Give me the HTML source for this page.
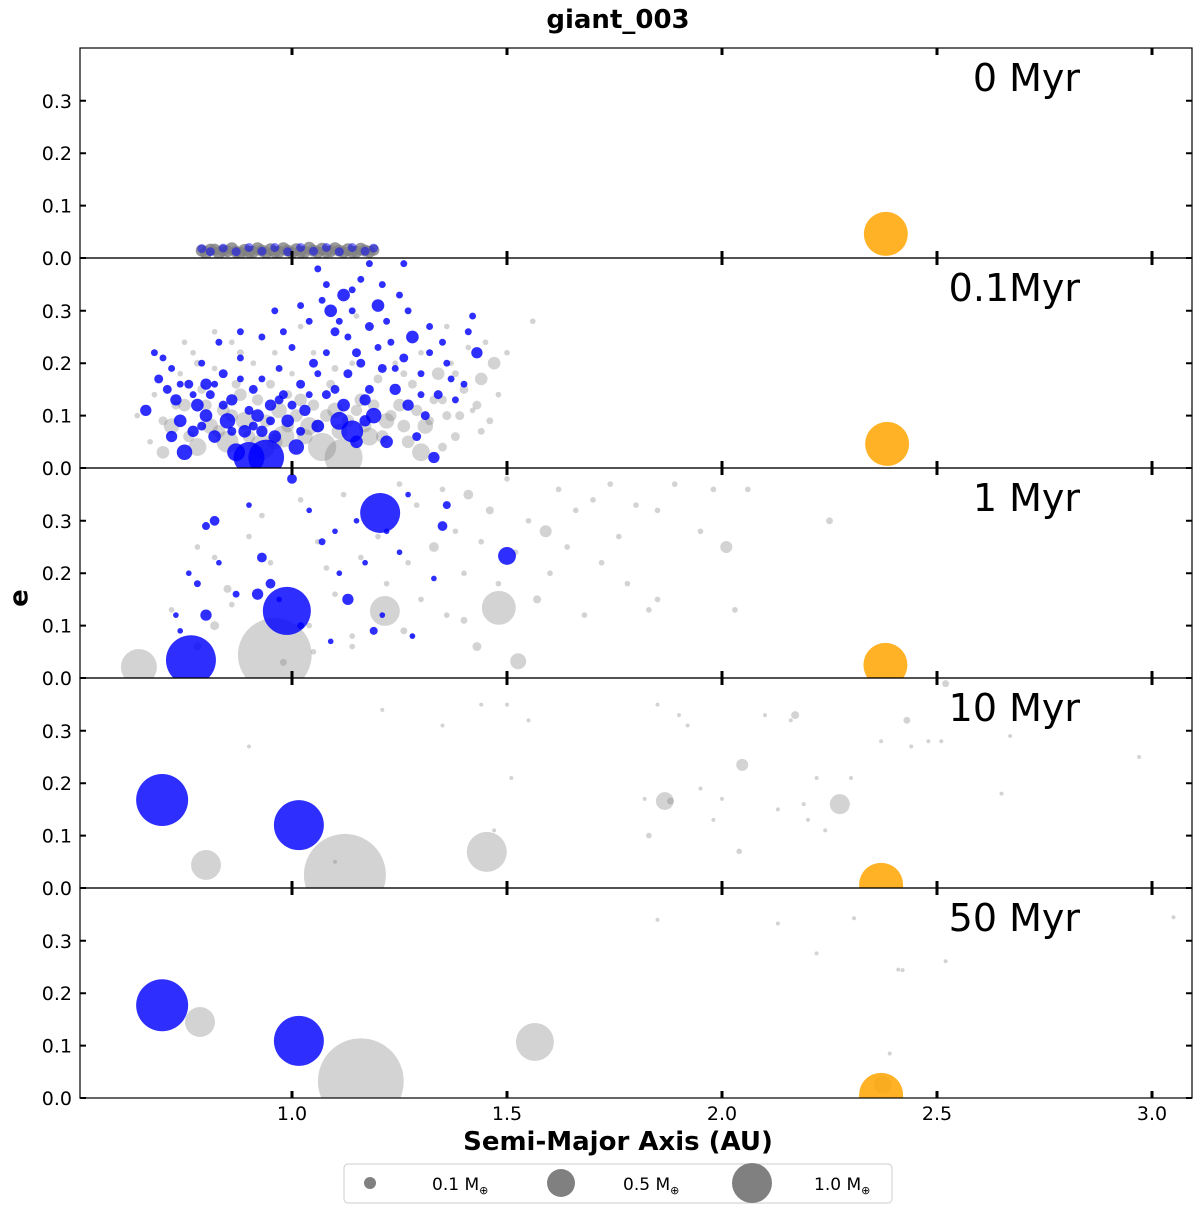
<!DOCTYPE html>
<html><head><meta charset="utf-8"><style>
body{margin:0;background:#fff;}
svg{display:block;font-family:"DejaVu Sans","Liberation Sans",sans-serif;}
</style></head><body>
<svg id="chart" width="1200" height="1211" viewBox="0 0 1200 1211">
<text x="618" y="28" font-size="26" font-weight="bold" text-anchor="middle">giant_003</text>
<text x="618" y="1150" font-size="26" font-weight="bold" text-anchor="middle">Semi-Major Axis (AU)</text>
<text x="20" y="598" font-size="26" font-weight="bold" text-anchor="middle" transform="rotate(-90 20 598)" dominant-baseline="middle">e</text>
<g id="panels"></g>
<g>
<rect x="344" y="1164" width="548" height="39" rx="4" fill="#fff" stroke="#ccc"/>
<circle cx="370" cy="1183" r="6" fill="#808080"/>
<text x="432" y="1190" font-size="17">0.1 M<tspan font-size="11" dy="4">⊕</tspan></text>
<circle cx="561" cy="1183" r="14" fill="#808080"/>
<text x="623" y="1190" font-size="17">0.5 M<tspan font-size="11" dy="4">⊕</tspan></text>
<circle cx="752" cy="1183" r="20" fill="#808080"/>
<text x="814" y="1190" font-size="17">1.0 M<tspan font-size="11" dy="4">⊕</tspan></text>
</g>
</svg>
<script>
const panelLabels=["0 Myr","0.1Myr","1 Myr","10 Myr","50 Myr"];
const xTicks=[1.0,1.5,2.0,2.5,3.0];
const yTicks=[0.0,0.1,0.2,0.3];
const giantA=[2.381,2.384,2.38,2.37,2.37];
const giantE=[0.046,0.046,0.025,0.006,0.006];
const p1Gray=[[0.79,0.014,0.09],[0.80,0.01,0.1],[0.81,0.016,0.09],[0.82,0.016,0.09],[0.83,0.01,0.1],[0.84,0.014,0.09],[0.85,0.013,0.09],[0.86,0.018,0.1],[0.87,0.012,0.09],[0.88,0.01,0.09],[0.89,0.015,0.1],[0.90,0.012,0.09],[0.91,0.012,0.09],[0.92,0.018,0.1],[0.93,0.014,0.09],[0.94,0.01,0.09],[0.95,0.016,0.1],[0.96,0.012,0.09],[0.97,0.012,0.09],[0.98,0.018,0.1],[0.99,0.014,0.09],[1.00,0.01,0.09],[1.01,0.016,0.1],[1.02,0.012,0.09],[1.03,0.012,0.09],[1.04,0.019,0.1],[1.05,0.014,0.09],[1.06,0.011,0.09],[1.07,0.017,0.1],[1.08,0.012,0.09],[1.09,0.013,0.09],[1.10,0.018,0.1],[1.11,0.014,0.09],[1.12,0.011,0.09],[1.13,0.016,0.1],[1.14,0.012,0.09],[1.15,0.012,0.09],[1.16,0.017,0.1],[1.17,0.014,0.09],[1.18,0.012,0.09],[1.19,0.015,0.08]];
const p1Blue=[[0.79,0.018,0.05],[0.81,0.012,0.05],[0.84,0.019,0.05],[0.87,0.012,0.05],[0.90,0.02,0.05],[0.93,0.013,0.05],[0.96,0.02,0.05],[0.99,0.012,0.05],[1.02,0.02,0.05],[1.05,0.013,0.05],[1.08,0.02,0.05],[1.11,0.012,0.05],[1.14,0.02,0.05],[1.17,0.013,0.05],[1.19,0.019,0.05]];
const p2Gray=[[0.64,0.10,0.02],[0.67,0.05,0.02],[0.68,0.14,0.02],[0.70,0.03,0.1],[0.72,0.08,0.15],[0.74,0.18,0.02],[0.75,0.12,0.1],[0.77,0.22,0.02],[0.78,0.04,0.2],[0.79,0.15,0.05],[0.81,0.08,0.15],[0.82,0.19,0.02],[0.84,0.11,0.1],[0.85,0.05,0.3],[0.86,0.24,0.02],[0.88,0.14,0.1],[0.89,0.09,0.2],[0.91,0.20,0.02],[0.93,0.04,0.4],[0.95,0.16,0.05],[0.97,0.11,0.15],[0.98,0.06,0.3],[1.00,0.18,0.02],[1.02,0.13,0.1],[1.04,0.08,0.2],[1.05,0.22,0.02],[1.07,0.04,0.5],[1.09,0.16,0.05],[1.10,0.11,0.15],[1.12,0.02,0.9],[1.14,0.20,0.02],[1.16,0.13,0.1],[1.18,0.06,0.2],[1.20,0.17,0.05],[1.22,0.09,0.15],[1.24,0.20,0.02],[1.25,0.12,0.1],[1.27,0.05,0.1],[1.28,0.16,0.05],[1.30,0.22,0.02],[1.31,0.08,0.15],[1.33,0.13,0.05],[1.34,0.18,0.1],[1.36,0.10,0.05],[1.37,0.20,0.02],[1.38,0.06,0.05],[1.40,0.15,0.05],[1.41,0.23,0.02],[1.42,0.11,0.02],[1.44,0.17,0.1],[1.45,0.24,0.02],[1.47,0.20,0.1],[1.48,0.14,0.02],[1.50,0.22,0.02],[1.56,0.28,0.02],[1.36,0.27,0.02],[1.02,0.27,0.02],[1.15,0.29,0.02],[0.96,0.22,0.02],[1.3,0.03,0.2],[0.99,0.14,0.05],
[0.70,0.09,0.05],[0.73,0.12,0.05],[0.76,0.06,0.08],[0.80,0.12,0.08],[0.83,0.07,0.1],[0.86,0.10,0.1],[0.87,0.16,0.05],[0.90,0.06,0.1],[0.92,0.13,0.08],[0.94,0.09,0.1],[0.96,0.05,0.15],[0.99,0.08,0.1],[1.01,0.10,0.1],[1.03,0.06,0.15],[1.05,0.12,0.08],[1.06,0.08,0.1],[1.08,0.10,0.1],[1.11,0.07,0.15],[1.13,0.09,0.1],[1.15,0.11,0.08],[1.17,0.08,0.1],[1.19,0.12,0.08],[1.21,0.06,0.1],[1.23,0.10,0.08],[1.26,0.08,0.1],[1.29,0.11,0.08],[1.32,0.09,0.05],[1.35,0.13,0.05],[1.39,0.10,0.05],[1.43,0.12,0.05],[1.46,0.09,0.03],[0.78,0.20,0.03],[0.88,0.22,0.03],[1.10,0.19,0.03],[1.26,0.18,0.03],[1.38,0.18,0.03],[0.75,0.24,0.02],[0.82,0.26,0.02],[1.44,0.07,0.03],[1.35,0.04,0.05]];
const p2Blue=[[0.66,0.11,0.08],[0.68,0.22,0.03],[0.69,0.17,0.05],[0.70,0.21,0.03],[0.71,0.15,0.05],[0.72,0.19,0.03],[0.73,0.13,0.08],[0.74,0.09,0.1],[0.75,0.03,0.15],[0.76,0.16,0.05],[0.77,0.07,0.08],[0.78,0.12,0.1],[0.79,0.20,0.03],[0.80,0.10,0.1],[0.81,0.14,0.05],[0.82,0.06,0.1],[0.83,0.24,0.03],[0.84,0.18,0.05],[0.85,0.09,0.15],[0.86,0.13,0.08],[0.87,0.03,0.2],[0.88,0.21,0.03],[0.89,0.07,0.1],[0.90,0.02,0.6],[0.91,0.15,0.05],[0.92,0.10,0.1],[0.93,0.25,0.03],[0.94,0.02,0.8],[0.95,0.12,0.08],[0.96,0.06,0.1],[0.97,0.19,0.03],[0.98,0.14,0.05],[0.99,0.09,0.1],[1.00,0.23,0.03],[1.01,0.04,0.15],[1.02,0.16,0.05],[1.03,0.11,0.08],[1.04,0.28,0.03],[1.05,0.20,0.05],[1.06,0.08,0.1],[1.07,0.32,0.03],[1.08,0.14,0.05],[1.09,0.30,0.1],[1.10,0.26,0.05],[1.11,0.09,0.2],[1.12,0.33,0.1],[1.13,0.18,0.05],[1.14,0.07,0.3],[1.15,0.22,0.05],[1.16,0.36,0.03],[1.17,0.13,0.08],[1.18,0.27,0.05],[1.19,0.10,0.15],[1.20,0.31,0.1],[1.21,0.19,0.05],[1.22,0.05,0.1],[1.23,0.24,0.03],[1.24,0.15,0.08],[1.25,0.33,0.03],[1.26,0.21,0.05],[1.27,0.12,0.08],[1.28,0.25,0.1],[1.29,0.06,0.05],[1.30,0.18,0.03],[1.31,0.10,0.05],[1.32,0.22,0.03],[1.33,0.02,0.08],[1.34,0.14,0.05],[1.35,0.24,0.03],[1.37,0.17,0.03],[1.38,0.13,0.03],[1.41,0.26,0.03],[1.43,0.22,0.08],[1.06,0.38,0.03],[1.18,0.39,0.03],[1.26,0.39,0.03],[0.96,0.30,0.03],[0.88,0.26,0.03],[0.9,0.11,0.05],[0.93,0.07,0.08],[1.12,0.12,0.1],[1.15,0.05,0.1],[1.17,0.09,0.08],[0.8,0.16,0.08],[0.72,0.06,0.08],
[0.74,0.16,0.03],[0.77,0.14,0.03],[0.79,0.08,0.05],[0.82,0.16,0.03],[0.84,0.12,0.05],[0.86,0.07,0.05],[0.88,0.17,0.03],[0.91,0.08,0.05],[0.93,0.17,0.03],[0.95,0.09,0.05],[0.97,0.13,0.05],[1.00,0.12,0.05],[1.02,0.07,0.05],[1.04,0.14,0.03],[1.06,0.18,0.03],[1.08,0.22,0.03],[1.10,0.15,0.05],[1.11,0.28,0.03],[1.13,0.25,0.03],[1.14,0.30,0.03],[1.16,0.20,0.05],[1.18,0.15,0.05],[1.20,0.23,0.03],[1.22,0.28,0.03],[1.24,0.19,0.03],[1.27,0.30,0.03],[1.30,0.14,0.03],[1.32,0.27,0.03],[1.08,0.35,0.03],[1.14,0.34,0.03],[1.02,0.31,0.03],[0.98,0.26,0.03],[1.21,0.35,0.03],[1.36,0.20,0.03],[1.40,0.16,0.03],[1.42,0.29,0.03]];
const p3Gray=[[0.644,0.021,0.81],[0.96,0.044,3.4],[1.481,0.134,0.72],[1.216,0.128,0.56],[1.526,0.032,0.16],[2.01,0.25,0.09],[1.59,0.28,0.09],[0.72,0.13,0.02],[0.78,0.25,0.02],[0.82,0.23,0.02],[0.86,0.14,0.02],[0.9,0.27,0.02],[0.93,0.31,0.02],[0.95,0.22,0.02],[0.98,0.03,0.03],[1.02,0.34,0.02],[1.04,0.10,0.02],[1.06,0.26,0.02],[1.08,0.21,0.02],[1.1,0.16,0.02],[1.12,0.35,0.02],[1.14,0.06,0.02],[1.16,0.23,0.02],[1.2,0.27,0.02],[1.22,0.18,0.02],[1.25,0.37,0.02],[1.27,0.22,0.02],[1.29,0.33,0.02],[1.3,0.15,0.02],[1.33,0.25,0.06],[1.35,0.36,0.02],[1.36,0.12,0.02],[1.38,0.28,0.02],[1.4,0.2,0.02],[1.41,0.35,0.06],[1.43,0.06,0.05],[1.44,0.26,0.02],[1.46,0.32,0.04],[1.48,0.18,0.02],[1.5,0.38,0.02],[1.52,0.24,0.02],[1.55,0.3,0.02],[1.57,0.15,0.04],[1.6,0.2,0.02],[1.62,0.36,0.02],[1.64,0.25,0.02],[1.66,0.32,0.02],[1.68,0.12,0.02],[1.7,0.34,0.02],[1.72,0.22,0.02],[1.74,0.37,0.02],[1.76,0.27,0.02],[1.78,0.18,0.02],[1.8,0.33,0.02],[1.83,0.13,0.02],[1.85,0.15,0.02],[1.89,0.37,0.02],[1.95,0.28,0.02],[1.98,0.36,0.02],[2.03,0.13,0.02],[2.06,0.36,0.02],[2.25,0.30,0.03],[1.85,0.32,0.02],[1.14,0.08,0.02],[1.28,0.08,0.02],[1.05,0.05,0.02],[1.4,0.11,0.03],[1.26,0.09,0.03],[0.82,0.1,0.05],[0.78,0.06,0.04],[0.85,0.17,0.04]];
const p3Blue=[[0.765,0.034,1.56],[0.988,0.128,1.44],[1.205,0.315,1.0],[1.5,0.233,0.2],[0.73,0.12,0.02],[0.74,0.09,0.02],[0.76,0.2,0.02],[0.78,0.18,0.03],[0.8,0.29,0.04],[0.82,0.3,0.06],[0.8,0.12,0.08],[0.83,0.22,0.02],[0.87,0.16,0.03],[0.9,0.33,0.02],[0.92,0.16,0.08],[0.93,0.23,0.06],[0.95,0.18,0.06],[0.97,0.15,0.02],[1.0,0.38,0.06],[1.02,0.1,0.03],[1.04,0.32,0.02],[1.07,0.26,0.03],[1.09,0.07,0.02],[1.1,0.28,0.02],[1.13,0.15,0.08],[1.15,0.3,0.02],[1.17,0.22,0.02],[1.19,0.09,0.04],[1.22,0.28,0.02],[1.25,0.24,0.02],[1.27,0.35,0.02],[1.33,0.19,0.02],[1.35,0.29,0.06],[1.36,0.33,0.04],[1.28,0.08,0.02],[1.21,0.12,0.02],[1.11,0.2,0.02]];
const p4Gray=[[0.8,0.044,0.56],[1.123,0.025,4.2],[1.453,0.069,1.0],[2.274,0.16,0.25],[1.867,0.166,0.2],[2.047,0.235,0.09],[1.1,0.05,0.01],[1.21,0.34,0.01],[0.9,0.27,0.01],[1.44,0.35,0.01],[1.5,0.35,0.01],[1.51,0.21,0.01],[1.55,0.32,0.01],[1.85,0.35,0.01],[1.82,0.17,0.01],[1.83,0.10,0.02],[1.9,0.33,0.01],[1.92,0.31,0.01],[1.95,0.19,0.01],[2.0,0.17,0.01],[1.98,0.13,0.01],[2.04,0.07,0.02],[2.1,0.33,0.01],[2.13,0.15,0.01],[2.16,0.32,0.01],[2.17,0.33,0.04],[2.19,0.16,0.01],[2.2,0.13,0.01],[2.22,0.21,0.01],[2.24,0.11,0.01],[2.3,0.21,0.01],[2.37,0.28,0.01],[2.43,0.32,0.03],[2.44,0.27,0.01],[2.48,0.28,0.01],[2.51,0.28,0.01],[2.52,0.39,0.03],[2.65,0.18,0.01],[2.67,0.29,0.01],[2.97,0.25,0.01],[1.35,0.31,0.01],[1.47,0.11,0.01],[1.88,0.166,0.03]];
const p4Blue=[[0.698,0.168,1.69],[1.016,0.12,1.56]];
const p5Gray=[[0.786,0.145,0.56],[1.16,0.032,4.6],[1.565,0.107,0.9],[2.374,0.025,0.2],[2.307,0.343,0.01],[2.13,0.333,0.01],[2.22,0.276,0.01],[2.41,0.245,0.01],[2.42,0.244,0.01],[2.52,0.261,0.01],[3.05,0.345,0.01],[2.39,0.085,0.01],[1.85,0.34,0.01]];
const p5Blue=[[0.698,0.177,1.69],[1.016,0.109,1.56]];
const grayData=[p1Gray,p2Gray,p3Gray,p4Gray,p5Gray];
const blueData=[p1Blue,p2Blue,p3Blue,p4Blue,p5Blue];

const NS="http://www.w3.org/2000/svg";
const L=80,R=1192,TOP=48,PH=210;
function xs(a){return 292+(a-1)*430;}
function ys(p,e){return TOP+PH*(p+1)-e*524;}
function rs(m){return 20*Math.sqrt(m);}
function mk(t,at){const el=document.createElementNS(NS,t);for(const k in at)el.setAttribute(k,at[k]);return el;}
const root=document.getElementById('panels');
const defs=mk('defs',{});root.appendChild(defs);
for(let p=0;p<5;p++){
  const top=TOP+PH*p;
  const cp=mk('clipPath',{id:'cp'+p});cp.appendChild(mk('rect',{x:L,y:top,width:R-L,height:PH}));defs.appendChild(cp);
  const g=mk('g',{'clip-path':'url(#cp'+p+')'});
  
  
  root.appendChild(g);
  const gr=grayData[p];
  for(let i=0;i<gr.length;i++){
    const c=mk('circle',{cx:xs(gr[i][0]),cy:ys(p,gr[i][1]),r:rs(gr[i][2]),fill:'#808080','fill-opacity':p===0?0.8:0.35});
    
    
    g.appendChild(c);
  }
  const bl=blueData[p];
  for(let i=0;i<bl.length;i++){
    const c=mk('circle',{cx:xs(bl[i][0]),cy:ys(p,bl[i][1]),r:rs(bl[i][2]),fill:'#0000ff','fill-opacity':p===0?0.5:0.82});
    
    
    g.appendChild(c);
  }
  const gi=mk('circle',{cx:xs(giantA[p]),cy:ys(p,giantE[p]),r:22,fill:'#ffa500','fill-opacity':0.85});
  
  
  g.appendChild(gi);
  const fr=mk('rect',{x:L,y:top,width:R-L,height:PH,fill:'none',stroke:'#000','stroke-width':1.2});
  
  
  root.appendChild(fr);
  for(const t of yTicks){
    const y=ys(p,t);
    const tk=mk('path',{d:`M${L} ${y}h6M${R} ${y}h-6`,stroke:'#000','stroke-width':2});
    
    
    root.appendChild(tk);
    const tl=mk('text',{x:L-8,y:y+7,'font-size':19,'text-anchor':'end'});
    tl.textContent=t.toFixed(1);
    
    
    root.appendChild(tl);
  }
  for(const t of xTicks){
    const x=xs(t);
    const tk=mk('path',{d:`M${x} ${top}v7M${x} ${top+PH}v-7`,stroke:'#000','stroke-width':3});
    
    
    root.appendChild(tk);
  }
  const lb=mk('text',{x:1080,y:top+43,'font-size':38,'text-anchor':'end'});
  lb.textContent=panelLabels[p];
  
  
  root.appendChild(lb);
}
for(const t of xTicks){
  const tl=mk('text',{x:xs(t),y:1120,'font-size':19,'text-anchor':'middle'});
  tl.textContent=t.toFixed(1);
  
  
  root.appendChild(tl);
}
</script>
</body></html>
